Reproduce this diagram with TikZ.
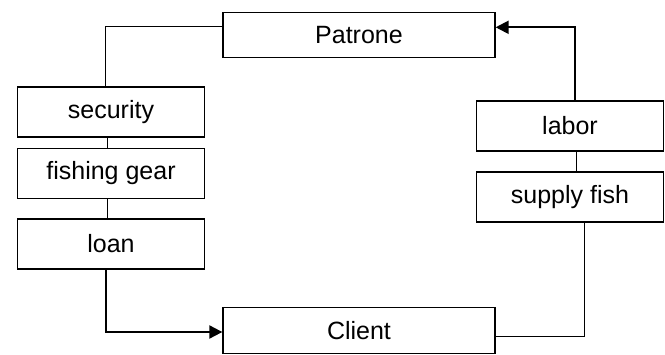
\documentclass[tikz,border=0pt]{standalone}
\usepackage{fontspec}
\setmainfont{Liberation Sans}
\usetikzlibrary{arrows.meta}
\begin{document}
\begin{tikzpicture}[x=1pt,y=-1pt,
  box/.style={draw, line width=1.3pt, minimum width=#1, minimum height=50pt, inner sep=0pt, font=\fontsize{25}{28}\selectfont},
  box/.default=187pt,
  link/.style={line width=1pt},
  flow/.style={line width=2pt, -{Triangle[length=13pt,width=13pt]}}]
\useasboundingbox (0,0) rectangle (665,354);
\node[box=272pt, minimum height=45pt] (patrone) at (359,35) {Patrone};
\node[box] (security) at (111,112) {security};
\node[box] (gear) at (111,173.5) {fishing gear};
\node[box] (loan) at (111,244) {loan};
\node[box] (labor) at (570,126) {labor};
\node[box] (supply) at (570,197) {supply fish};
\node[box=272pt, minimum height=46pt] (client) at (359,330.5) {Client};
\draw[link] (patrone.west |- 0,26.7) -| (security.north -| 105.6,0);
\draw[link] (security.south -| 107,0) -- (gear.north -| 107,0);
\draw[link] (gear.south -| 107,0) -- (loan.north -| 107,0);
\draw[flow] (loan.south -| 106,0) |- (client.west |- 0,332);
\draw[link] (client.east |- 0,336) -| (supply.south -| 584,0);
\draw[link] (labor.south -| 576,0) -- (supply.north -| 576,0);
\draw[flow] (labor.north -| 575,0) |- (patrone.east |- 0,27.3);
\end{tikzpicture}
\end{document}
